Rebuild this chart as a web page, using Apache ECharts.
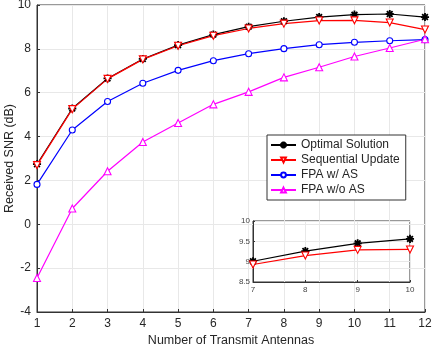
<!DOCTYPE html>
<html><head><meta charset="utf-8">
<script src="https://cdn.jsdelivr.net/npm/echarts@6/dist/echarts.min.js"></script>
<style>html,body{margin:0;padding:0;background:#fff}#c{width:432px;height:348px}</style>
</head><body><div id="c"></div>
<script>
const antennas = [1,2,3,4,5,6,7,8,9,10,11,12];
const optimal = [2.74,5.28,6.65,7.54,8.17,8.65,9.01,9.26,9.45,9.56,9.59,9.45];
const sequential = [2.70,5.25,6.63,7.52,8.14,8.60,8.93,9.15,9.29,9.30,9.20,8.88];
const fpaAS = [1.82,4.30,5.60,6.43,7.02,7.46,7.78,8.01,8.19,8.30,8.37,8.42];
const fpaNoAS = [-2.45,0.72,2.42,3.75,4.62,5.47,6.04,6.70,7.16,7.65,8.04,8.44];
const insetRange = [7,10];
const names = ['Optimal Solution','Sequential Update','FPA w/ AS','FPA w/o AS'];

const pairs = (xs, ys) => xs.map((x,i)=>[x, ys[i]]);
const insetPairs = ys => pairs(antennas, ys).filter(p => p[0]>=insetRange[0] && p[0]<=insetRange[1]);

const star = 'path://M-0.5,5 L0.5,5 L0.5,-5 L-0.5,-5 Z M5,0.5 L5,-0.5 L-5,-0.5 L-5,0.5 Z M3.18,3.89 L3.89,3.18 L-3.18,-3.89 L-3.89,-3.18 Z M3.89,-3.18 L3.18,-3.89 L-3.89,3.18 L-3.18,3.89 Z';
const font = "'Liberation Sans', Arial, sans-serif";
const txt = '#262626';
const gridCol = '#e8e8e8';

function mkSeries(name, data, color, symbol, size, rot, xi, filled){
  return {
    name, type:'line', data, xAxisIndex:xi, yAxisIndex:xi,
    symbol, symbolSize:size, symbolRotate:rot, showSymbol:true,
    lineStyle:{color, width:1.2},
    itemStyle:{color: filled ? color : '#fff', borderColor:color, borderWidth:1.1},
    emphasis:{disabled:true}, animation:false, clip:false
  };
}

const chart = echarts.init(document.getElementById('c'), null, {renderer:'canvas'});
chart.setOption({
  backgroundColor:'#fff',
  animation:false,
  textStyle:{fontFamily:font},
  grid:[
    {left:37, top:5, width:388, height:307, show:true, borderColor:'#333', borderWidth:1, backgroundColor:'transparent', containLabel:false, outerBoundsMode:'none'},
    {left:253, top:221, width:157, height:61, show:true, borderColor:'#333', borderWidth:1, backgroundColor:'transparent', containLabel:false, outerBoundsMode:'none'}
  ],
  legend:{
    data:names, orient:'vertical', left:267, top:135,
    itemWidth:25, itemHeight:6, itemGap:1,
    padding:[3,6,3,3], borderColor:'#333', borderWidth:1, backgroundColor:'#fff',
    textStyle:{fontFamily:font, fontSize:12, color:txt, lineHeight:14}, selectedMode:false
  },
  xAxis:[
    {type:'value', gridIndex:0, min:1, max:12, interval:1,
     name:'Number of Transmit Antennas', nameLocation:'middle', nameGap:22, nameMoveOverlap:false,
     nameTextStyle:{fontFamily:font, fontSize:12.5, color:txt},
     axisLine:{show:true, onZero:false, lineStyle:{color:'#333'}},
     axisTick:{show:true, inside:true, length:3, lineStyle:{color:'#333'}},
     axisLabel:{fontFamily:font, fontSize:12, color:txt, margin:6},
     splitLine:{show:true, lineStyle:{color:gridCol, width:1}}},
    {type:'value', gridIndex:1, min:7, max:10, interval:1,
     axisLine:{show:true, onZero:false, lineStyle:{color:'#333'}},
     axisTick:{show:true, inside:true, length:2, lineStyle:{color:'#333'}},
     axisLabel:{fontFamily:font, fontSize:8, color:'#444', margin:4},
     splitLine:{show:true, lineStyle:{color:gridCol, width:1}}}
  ],
  yAxis:[
    {type:'value', gridIndex:0, min:-4, max:10, interval:2,
     name:'Received SNR (dB)', nameLocation:'middle', nameGap:21, nameMoveOverlap:false,
     nameTextStyle:{fontFamily:font, fontSize:12.5, color:txt},
     axisLine:{show:true, onZero:false, lineStyle:{color:'#333'}},
     axisTick:{show:true, inside:true, length:3, lineStyle:{color:'#333'}},
     axisLabel:{fontFamily:font, fontSize:12, color:txt, margin:6},
     splitLine:{show:true, lineStyle:{color:gridCol, width:1}}},
    {type:'value', gridIndex:1, min:8.5, max:10, interval:0.5,
     axisLine:{show:true, onZero:false, lineStyle:{color:'#333'}},
     axisTick:{show:true, inside:true, length:2, lineStyle:{color:'#333'}},
     axisLabel:{fontFamily:font, fontSize:8, color:'#444', margin:3},
     splitLine:{show:true, lineStyle:{color:gridCol, width:1}}}
  ],
  series:[
    mkSeries(names[0], pairs(antennas, optimal), '#000000', star, 7, 0, 0, true),
    mkSeries(names[1], pairs(antennas, sequential), '#ff0000', 'triangle', 7, 180, 0, false),
    mkSeries(names[2], pairs(antennas, fpaAS), '#0000ff', 'circle', 6, 0, 0, false),
    mkSeries(names[3], pairs(antennas, fpaNoAS), '#ff00ff', 'triangle', 7, 0, 0, false),
    mkSeries('inset-opt', insetPairs(optimal), '#000000', star, 7, 0, 1, true),
    mkSeries('inset-seq', insetPairs(sequential), '#ff0000', 'triangle', 7, 180, 1, false)
  ]
});
</script></body></html>
